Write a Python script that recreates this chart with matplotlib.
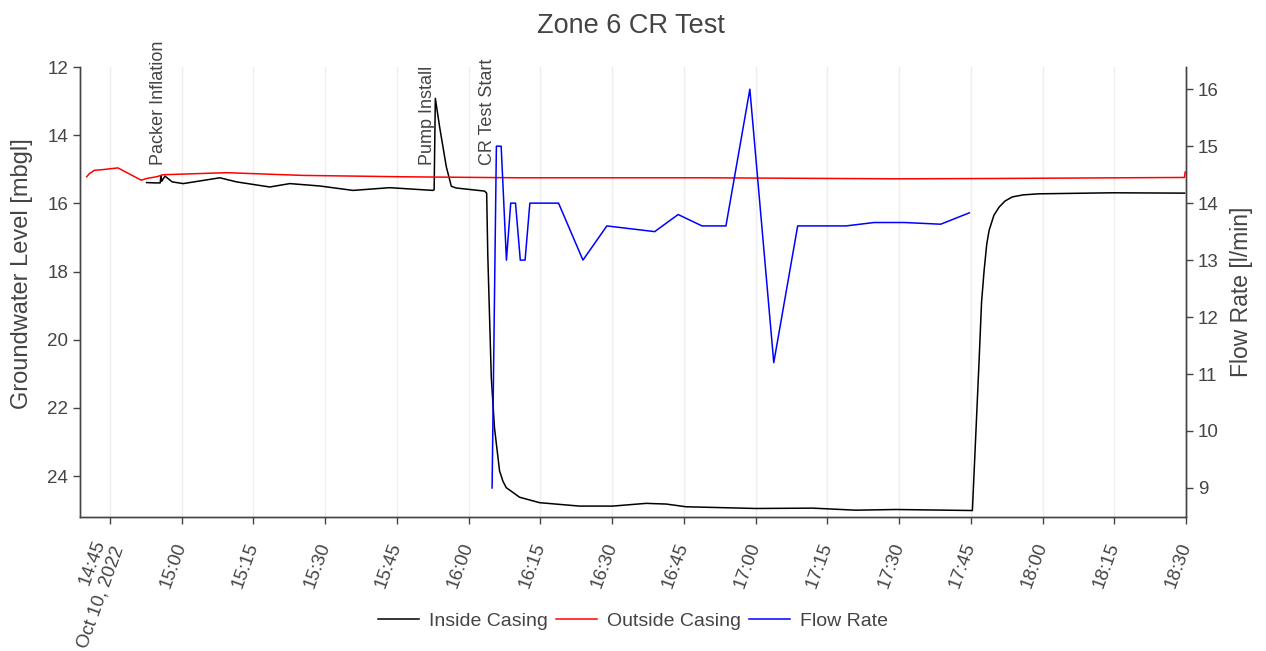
import numpy as np
import pandas as pd
import matplotlib
matplotlib.use("Agg")
import matplotlib.pyplot as plt
import matplotlib.dates as mdates
from matplotlib.ticker import FuncFormatter

plt.rcParams['font.family'] = ['Liberation Sans', 'DejaVu Sans']

DAY = "2022-10-10 "

# inside casing level [mbgl]
inside_time = ["14:52:40", "14:54:24", "14:55:30", "14:55:40", "14:55:50", "14:56:30",
               "14:58:00", "15:00:19", "15:07:59", "15:11:28", "15:18:25", "15:22:36",
               "15:28:52", "15:35:49", "15:43:29", "15:52:32", "15:52:47", "15:53:02",
               "15:53:56", "15:55:20", "15:56:23", "15:57:26", "16:03:20", "16:03:46",
               "16:04:00", "16:04:44", "16:05:24", "16:06:28", "16:07:10", "16:07:52",
               "16:10:39", "16:14:50", "16:23:11", "16:30:06", "16:37:07", "16:41:18",
               "16:45:29", "17:00:06", "17:11:55", "17:20:59", "17:29:20", "17:45:20",
               "17:46:03", "17:46:44", "17:47:15", "17:47:47", "17:48:20", "17:48:50",
               "17:49:50", "17:50:55", "17:52:10", "17:53:42", "17:56:00", "17:59:16",
               "18:14:36", "18:29:43"]
inside_level = [15.39, 15.40, 15.40, 15.18, 15.35, 15.20,
                15.37, 15.42, 15.25, 15.37, 15.52, 15.42,
                15.49, 15.62, 15.54, 15.62, 15.60, 12.92,
                13.76, 14.93, 15.50, 15.55, 15.64, 15.70,
                17.50, 21.10, 22.58, 23.85, 24.15, 24.34,
                24.62, 24.78, 24.88, 24.88, 24.80, 24.82,
                24.90, 24.95, 24.94, 25.00, 24.98, 25.01,
                22.77, 20.62, 18.90, 17.97, 17.20, 16.79,
                16.35, 16.11, 15.93, 15.81, 15.75, 15.72,
                15.69, 15.70]

# outside casing level [mbgl]
outside_time = ["14:40:08", "14:40:40", "14:41:45", "14:43:30", "14:46:40", "14:51:32",
                "14:52:40", "14:54:45", "14:56:08", "15:09:22", "15:25:23", "15:46:16",
                "16:10:40", "16:50:00", "17:30:00", "17:50:00", "18:29:40", "18:29:50"]
outside_level = [15.22, 15.13, 15.03, 15.01, 14.96, 15.32,
                 15.27, 15.22, 15.16, 15.10, 15.18, 15.22,
                 15.25, 15.25, 15.28, 15.27, 15.24, 15.08]

# flow rate [l/min]
flow_time = ["16:04:54", "16:05:48", "16:06:48", "16:07:54", "16:08:48", "16:09:48",
             "16:10:48", "16:11:48", "16:12:48", "16:18:48", "16:23:54", "16:28:54",
             "16:38:54", "16:43:48", "16:48:48", "16:53:48", "16:58:48", "17:03:48",
             "17:08:48", "17:18:54", "17:24:48", "17:31:06", "17:38:42", "17:44:42"]
flow_rate = [9.0, 15.0, 15.0, 13.0, 14.0, 14.0,
             13.0, 13.0, 14.0, 14.0, 13.0, 13.6,
             13.5, 13.8, 13.6, 13.6, 16.0, 11.2,
             13.6, 13.6, 13.66, 13.66, 13.63, 13.83]

events = ["Packer Inflation", "Pump Install", "CR Test Start"]
event_time = ["14:55:10", "15:51:20", "16:04:00"]


def to_dt(lst):
    return pd.to_datetime([DAY + t for t in lst])


fig = plt.figure(figsize=(12.66, 6.51), dpi=100)
ax = fig.add_axes([80 / 1266, 1 - 517 / 651, 1106 / 1266, 450 / 651])
ax2 = ax.twinx()

l1, = ax.plot(to_dt(inside_time), inside_level, color='black', lw=1.1, label='Inside Casing')
l2, = ax.plot(to_dt(outside_time), outside_level, color='#ff0000', lw=1.1, label='Outside Casing')
l3, = ax2.plot(to_dt(flow_time), flow_rate, color='#0000ff', lw=1.1, label='Flow Rate')

for name, t in zip(events, to_dt(event_time)):
    ax.text(t, 14.88, name, rotation=90, ha='center', va='bottom',
            fontsize=13, color='#444444')

ax.set_ylim(25.2, 12)
ax.set_yticks([12, 14, 16, 18, 20, 22, 24])
ax2.set_ylim(8.49, 16.39)
ax2.set_yticks([9, 10, 11, 12, 13, 14, 15, 16])
ax.set_xlim(pd.Timestamp(DAY + "14:38:44"), pd.Timestamp(DAY + "18:30:00"))

ax.xaxis.set_major_locator(mdates.MinuteLocator(byminute=[0, 15, 30, 45]))


def fmt(x, pos):
    d = mdates.num2date(x)
    s = d.strftime("%H:%M")
    if pos == 0:
        s = s + "\nOct 10, 2022"
    return s


ax.xaxis.set_major_formatter(FuncFormatter(fmt))

ax.grid(axis='x', color='#eeeeee', lw=1)
ax.set_axisbelow(True)

for a in (ax, ax2):
    a.spines['top'].set_visible(False)
    for s in ('left', 'right', 'bottom'):
        a.spines[s].set_color('#444444')
        a.spines[s].set_linewidth(1)
    a.tick_params(colors='#444444', labelsize=13.5, length=5, width=1, labelcolor='#444444')
ax.tick_params(axis='x', pad=14)
plt.setp(ax.get_xticklabels(), rotation=70, ha='right', va='center',
         rotation_mode='anchor')

ax.set_ylabel("Groundwater Level [mbgl]", fontsize=17, color='#444444', labelpad=10)
ax.yaxis.label.set_y(0.54)
ax2.set_ylabel("Flow Rate [l/min]", fontsize=16.5, color='#444444', labelpad=8)
fig.suptitle("Zone 6 CR Test", fontsize=19.5, color='#444444', x=0.498, y=0.98)

fig.legend(handles=[l1, l2, l3], loc='center', bbox_to_anchor=(0.5, 1 - 621 / 651),
           ncol=3, frameon=False, fontsize=14, handlelength=2.1, columnspacing=0.45,
           handletextpad=0.5, labelcolor='#444444')

fig.savefig("out.png", dpi=100)
